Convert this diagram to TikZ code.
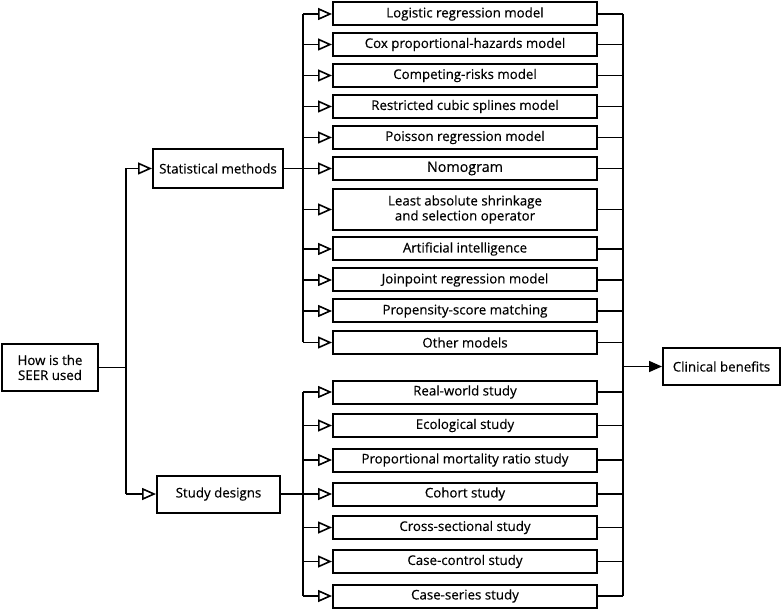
\documentclass[tikz,border=0pt]{standalone}
\usepackage{fontspec}
\setmainfont{Open Sans}[FakeBold=0.4]
\usetikzlibrary{arrows.meta}
\begin{document}
\begin{tikzpicture}[x=1pt,y=-1pt,
  box/.style={draw, line width=2pt, inner sep=0pt, align=center, font=\fontsize{13.3}{15}\selectfont},
  mbox/.style={box, minimum width=264pt, minimum height=23pt},
  conn/.style={line width=1.6pt},
  oarr/.style={conn, -{Triangle[open, length=14pt, width=12pt, line width=1.6pt]}},
  farr/.style={conn, -{Triangle[length=13pt, width=11pt]}}]
\useasboundingbox (0,0) rectangle (784,609);
% left
\node[box, minimum width=96pt, minimum height=47pt] (how) at (50,367.5) {How is the\\SEER used};
\node[box, minimum width=130pt, minimum height=39pt] (sm) at (218,168.5) {Statistical methods};
\node[box, minimum width=123pt, minimum height=37pt] (sd) at (218.5,494) {Study designs};
\node[box, minimum width=117pt, minimum height=37pt] (cb) at (721.5,366.5) {Clinical benefits};
\coordinate (lj) at (126,367.5);
\coordinate (lt) at (126,168.5);
\coordinate (lb) at (126,494);
\draw[conn] (how.east) -- (lj);
\draw[conn] (lt) -- (lb);
\draw[oarr] (lt) -- (sm.west);
\draw[oarr] (lb) -- (sd.west);
% methods
\foreach \i/\y/\h/\t in {1/14/23/Logistic regression model,
  2/44.5/23/Cox proportional-hazards model,
  3/75.5/23/Competing-risks model,
  4/106.5/23/Restricted cubic splines model,
  5/137.5/23/Poisson regression model,
  6/168.5/23/{\fontsize{14.3}{16}\selectfont Nomogram},
  7/209.5/41/{Least absolute shrinkage\\and selection operator},
  8/249/23/Artificial intelligence,
  9/280/23/Joinpoint regression model,
  10/311/23/Propensity-score matching,
  11/342.5/23/Other models}{
  \node[mbox, minimum height=\h pt] (m\i) at (465,\y) {\t};
  \coordinate (bm\i) at (303,\y);
  \coordinate (rm\i) at (623,\y);
  \draw[oarr] (bm\i) -- (m\i.west);
  \draw[conn] (m\i.east) -- (rm\i);
}
\draw[conn] (sm.east) -- (bm6);
\draw[conn] (bm1) -- (bm11);
% study designs
\foreach \i/\y/\t in {1/392/Real-world study,
  2/425.5/Ecological study,
  3/460/Proportional mortality ratio study,
  4/494/Cohort study,
  5/527.5/Cross-sectional study,
  6/561.5/Case-control study,
  7/596/Case-series study}{
  \node[mbox] (s\i) at (465,\y) {\t};
  \coordinate (bs\i) at (303,\y);
  \coordinate (rs\i) at (623,\y);
  \draw[oarr] (bs\i) -- (s\i.west);
  \draw[conn] (s\i.east) -- (rs\i);
}
\draw[conn] (sd.east) -- (bs4);
\draw[conn] (bs1) -- (bs7);
% right bus
\draw[conn] (rm1) -- (rs7);
\coordinate (rj) at (623,366.5);
\draw[farr] (rj) -- (cb.west);
\end{tikzpicture}
\end{document}
